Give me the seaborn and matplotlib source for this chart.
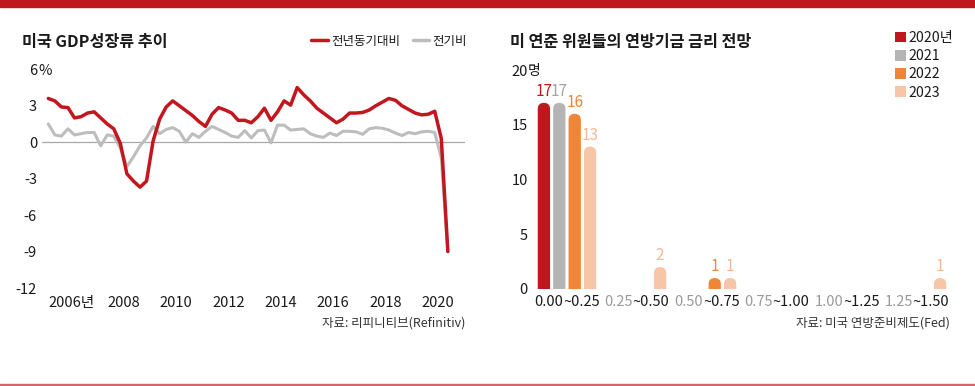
import numpy as np
import pandas as pd
import matplotlib
matplotlib.use("Agg")
import matplotlib.pyplot as plt
import seaborn as sns
from matplotlib.patches import FancyBboxPatch, Rectangle, Patch
from matplotlib.lines import Line2D
from matplotlib import font_manager

sns.set_theme(style="white")
KR = "Noto Sans CJK KR"
plt.rcParams["font.family"] = [KR, "DejaVu Sans"]
avail = {f.name for f in font_manager.fontManager.ttflist}
if "Liberation Sans Narrow" in avail:
    NUM = ["Liberation Sans Narrow", KR, "DejaVu Sans"]
    NSZ = 11.5
else:
    NUM = [KR, "DejaVu Sans"]
    NSZ = 10.5

# ---------------- data: left (US GDP growth, quarterly 2005Q1-2020Q2) ----------------
quarters = pd.period_range("2005Q1", "2020Q2", freq="Q")
yoy = [3.6, 3.4, 2.9, 2.85, 2.0, 2.1, 2.4, 2.5, 2.0, 1.5,
       1.1, -0.1, -2.6, -3.2, -3.7, -3.2, 0.1, 1.9, 2.9, 3.4,
       3.0, 2.6, 2.2, 1.7, 1.3, 2.3, 2.85, 2.65, 2.4, 1.8,
       1.8, 1.6, 2.1, 2.8, 1.8, 2.5, 3.4, 3.05, 4.5, 3.9,
       3.4, 2.8, 2.4, 2.0, 1.6, 1.9, 2.4, 2.4, 2.45, 2.65,
       3.0, 3.3, 3.6, 3.45, 3.0, 2.7, 2.4, 2.25, 2.3, 2.55,
       0.3, -9.0]
qoq = [1.5, 0.6, 0.5, 1.1, 0.6, 0.7, 0.8, 0.8, -0.3, 0.6,
       0.5, -0.5, -2.0, -1.2, -0.3, 0.35, 1.3, 0.7, 1.05, 1.2,
       0.9, 0.0, 0.7, 0.4, 0.9, 1.3, 1.05, 0.8, 0.5, 0.4,
       0.95, 0.35, 0.95, 1.0, -0.05, 1.4, 1.4, 1.0, 1.05, 1.1,
       0.7, 0.5, 0.4, 0.75, 0.55, 0.9, 0.9, 0.85, 0.65, 1.1,
       1.2, 1.15, 1.0, 0.75, 0.55, 0.8, 0.7, 0.85, 0.9, 0.8,
       -1.3, -9.0]
series_names = ["전년동기대비", "전기비"]
year_ticks = [2006, 2008, 2010, 2012, 2014, 2016, 2018, 2020]
year_labels = ["2006년", "2008", "2010", "2012", "2014", "2016", "2018", "2020"]
gdp_yticks = [-12, -9, -6, -3, 0, 3, 6]

# ---------------- data: right (FOMC dot plot counts) ----------------
rate_ranges = ["0.00~0.25", "0.25~0.50", "0.50~0.75", "0.75~1.00", "1.00~1.25", "1.25~1.50"]
years = ["2020년", "2021", "2022", "2023"]
members_2020 = [17, 0, 0, 0, 0, 0]
members_2021 = [17, 0, 0, 0, 0, 0]
members_2022 = [16, 0, 1, 0, 0, 0]
members_2023 = [13, 2, 1, 0, 0, 1]
count_yticks = [0, 5, 10, 15, 20]

RED = "#c3171f"
GREY = "#bdbdbd"
bar_colors = ["#c0171f", "#b4b4b4", "#ef8537", "#f7c5a7"]
label_colors = ["#c0171f", "#a3a3a3", "#ef8537", "#f4b995"]
DARK = "#1a1a1a"

W, H = 975, 386
fig = plt.figure(figsize=(W / 100, H / 100), dpi=100)
fig.patch.set_facecolor("white")

def fx(px):
    return px / W

def fy(py):
    return 1 - py / H

# decorative bands
fig.patches.append(Rectangle((0, fy(7)), 1, 7 / H, transform=fig.transFigure,
                             color="#c0161d", zorder=0))
fig.patches.append(Rectangle((0, fy(386)), 1, 2 / H, transform=fig.transFigure,
                             color="#d8646b", zorder=0))

# ================= LEFT CHART =================
ax1 = fig.add_axes([fx(42), fy(288), fx(423), 218.7 / H])
t = [q.year + (q.quarter - 0.5) / 4 for q in quarters]
df = pd.DataFrame({"t": t, "yoy": yoy, "qoq": qoq})
ax1.axhline(0, color="#a8a8a8", lw=0.9, zorder=1)
sns.lineplot(data=df, x="t", y="qoq", color=GREY, lw=2.2, ax=ax1,
             errorbar=None, zorder=2, solid_joinstyle="round")
sns.lineplot(data=df, x="t", y="yoy", color=RED, lw=2.5, ax=ax1,
             errorbar=None, zorder=3, solid_joinstyle="round")
ax1.set_xlim(2004.885, 2021.03)
ax1.set_ylim(-12, 6)
ax1.set_xlabel("")
ax1.set_ylabel("")
for s in ax1.spines.values():
    s.set_visible(False)
ax1.set_xticks(year_ticks)
ax1.set_xticklabels(year_labels, fontfamily=NUM, fontsize=NSZ, color=DARK)
ax1.set_yticks(gdp_yticks)
ax1.set_yticklabels([str(v) for v in gdp_yticks], fontfamily=NUM, fontsize=NSZ, color=DARK)
ax1.tick_params(axis="x", length=0, pad=6)
ax1.tick_params(axis="y", length=0, pad=3.6)
ax1.set_facecolor("none")
ax1.annotate("%", xy=(0, 6), xycoords=("axes fraction", "data"), xytext=(-4, 0),
             textcoords="offset pixels", ha="left", va="center_baseline",
             fontfamily=NUM, fontsize=NSZ, color=DARK)

fig.text(fx(22), fy(42), "미국 GDP성장류 추이", fontsize=11.7, fontweight="bold",
         color=DARK, ha="left", va="center")
leg1 = fig.legend(handles=[Line2D([], [], color=RED, lw=2.5),
                           Line2D([], [], color=GREY, lw=2.5)],
                  labels=series_names, loc="center right",
                  bbox_to_anchor=(fx(467), fy(41)), ncol=2, frameon=False,
                  fontsize=9, handlelength=1.35, handletextpad=0.25,
                  columnspacing=1.0, borderaxespad=0, borderpad=0)
for txt in leg1.get_texts():
    txt.set_color(DARK)
fig.text(fx(465), fy(323), "자료: 리피니티브(Refinitiv)", fontsize=9, color="#333333",
         ha="right", va="center")

# ================= RIGHT CHART =================
ax2 = fig.add_axes([fx(532), fy(289), fx(420), 219 / H])
dfb = pd.DataFrame({
    "range": rate_ranges * 4,
    "year": sum([[y] * len(rate_ranges) for y in years], []),
    "count": members_2020 + members_2021 + members_2022 + members_2023,
})
sns.barplot(data=dfb, x="range", y="count", hue="year", order=rate_ranges,
            hue_order=years, palette=bar_colors, saturation=1, width=0.88, gap=0.2,
            ax=ax2, legend=False, errorbar=None)
ax2.set_xlim(-0.5, 5.5)
ax2.set_ylim(0, 20)
ax2.set_xlabel("")
ax2.set_ylabel("")
for s in ax2.spines.values():
    s.set_visible(False)
ax2.set_yticks(count_yticks)
ax2.set_yticklabels([str(v) for v in count_yticks], fontfamily=NUM, fontsize=NSZ, color=DARK)
ax2.tick_params(axis="y", length=0, pad=3)
ax2.set_xticks(range(len(rate_ranges)))
ax2.set_xticklabels([""] * len(rate_ranges))
ax2.tick_params(axis="x", length=0)
ax2.set_facecolor("none")
ax2.annotate("명", xy=(0, 20), xycoords=("axes fraction", "data"), xytext=(-4, 0),
             textcoords="offset pixels", ha="left", va="center_baseline",
             fontsize=NSZ - 0.5, color=DARK)

# rounded-top bars (one container per hue level, in hue order)
px_per_x = ax2.transData.transform((1, 0))[0] - ax2.transData.transform((0, 0))[0]
px_per_y = ax2.transData.transform((0, 1))[1] - ax2.transData.transform((0, 0))[1]
for idx, cont in enumerate(ax2.containers):
    for p in cont.patches:
        h = p.get_height()
        p.set_visible(False)
        if not np.isfinite(h) or h <= 0:
            continue
        x0, w = p.get_x(), p.get_width()
        rx = w / 2
        ry = rx * px_per_x / px_per_y
        box = FancyBboxPatch((x0, -ry), w, h + ry,
                             boxstyle=f"round,pad=0,rounding_size={rx}",
                             mutation_aspect=ry / rx, fc=bar_colors[idx], ec="none",
                             zorder=3)
        ax2.add_patch(box)
        ax2.annotate(f"{int(h)}", xy=(x0 + w / 2, h), xytext=(0, 3),
                     textcoords="offset pixels", ha="center", va="bottom",
                     fontfamily=NUM, fontsize=NSZ + 0.5, color=label_colors[idx],
                     annotation_clip=False)

# two-tone category labels
fig.canvas.draw()
renderer = fig.canvas.get_renderer()
for k, lab in enumerate(rate_ranges):
    left, right = lab.split("~")
    right = "~" + right
    lc = DARK if k == 0 else "#9a9a9a"
    t1 = ax2.annotate(left, xy=(k, 0), xycoords=("data", "axes fraction"),
                      xytext=(0, -13), textcoords="offset pixels", ha="left",
                      va="center", fontfamily=NUM, fontsize=NSZ, color=lc)
    t2 = ax2.annotate(right, xy=(k, 0), xycoords=("data", "axes fraction"),
                      xytext=(0, -13), textcoords="offset pixels", ha="left",
                      va="center", fontfamily=NUM, fontsize=NSZ, color=DARK)
    w1 = t1.get_window_extent(renderer).width
    w2 = t2.get_window_extent(renderer).width
    start = -(w1 + w2) / 2
    t1.xyann = (start, -13)
    t2.xyann = (start + w1, -13)

fig.text(fx(510), fy(42), "미 연준 위원들의 연방기금 금리 전망", fontsize=11.7,
         fontweight="bold", color=DARK, ha="left", va="center")
leg2 = fig.legend(handles=[Patch(fc=c, ec="none") for c in bar_colors], labels=years,
                  loc="upper left", bbox_to_anchor=(fx(895), fy(31)), ncol=1,
                  frameon=False, prop={"family": NUM, "size": NSZ - 0.3},
                  handlelength=0.8, handleheight=0.8, handletextpad=0.15,
                  labelspacing=0.3, borderaxespad=0, borderpad=0)
for txt in leg2.get_texts():
    txt.set_color(DARK)
fig.text(fx(950), fy(323), "자료: 미국 연방준비제도(Fed)", fontsize=9, color="#333333",
         ha="right", va="center")

fig.savefig("out.png", dpi=100, facecolor="white")
